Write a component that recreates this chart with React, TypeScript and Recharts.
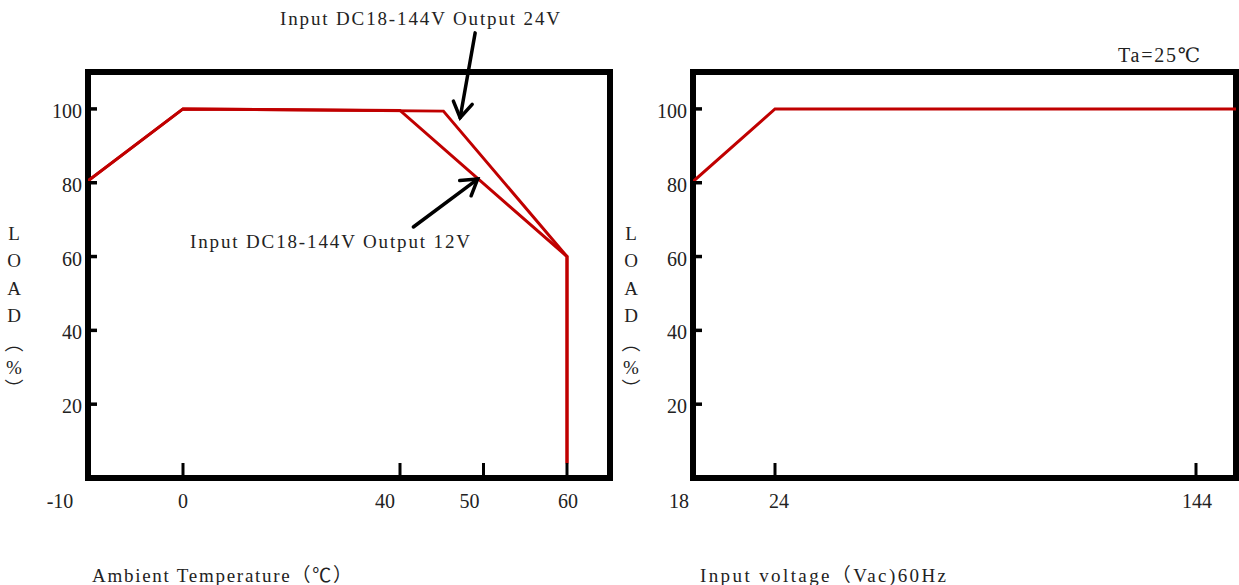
import React from 'react';
import { LineChart, Line, XAxis, YAxis, ReferenceArea, ReferenceLine } from 'recharts';

// ---------- data ----------
const tempTicks = [-10, 0, 40, 50, 60];
const loadTicks = [20, 40, 60, 80, 100];
const temp12V = [-10, 0, 40, 60, 60];
const load12V = [80.5, 100, 99.6, 60, 4];
const temp24V = [-10, 0, 45.2, 60, 60];
const load24V = [80.5, 100, 99.4, 60, 4];
const voltTicks = [18, 24, 144];
const voltX = [18, 24, 155];
const voltLoad = [80.3, 100, 100];

// annotation arrows in data space (from tail to tip)
const arrow24From = { x: 49.0, y: 120.6 };
const arrow24To = { x: 47.2, y: 97.6 };
const arrow12From = { x: 41.6, y: 68.0 };
const arrow12To = { x: 49.3, y: 81.0 };

const series12V = temp12V.map((t, i) => ({ x: t, y: load12V[i] }));
const series24V = temp24V.map((t, i) => ({ x: t, y: load24V[i] }));
const seriesVolt = voltX.map((v, i) => ({ x: v, y: voltLoad[i] }));

// ---------- piecewise-linear axis scale (the original axis is not uniform) ----------
function makePiecewiseScale(knots: number[], stops: number[]): any {
  let domain = [knots[0], knots[knots.length - 1]];
  let range = [0, 1];
  const scale: any = (v: number) => {
    if (v == null || Number.isNaN(v)) return undefined;
    let i = 0;
    while (i < knots.length - 2 && v > knots[i + 1]) i++;
    const t = (v - knots[i]) / (knots[i + 1] - knots[i]);
    const f = stops[i] + t * (stops[i + 1] - stops[i]);
    return range[0] + f * (range[1] - range[0]);
  };
  scale.domain = (d?: number[]) => {
    if (!d) return domain.slice();
    domain = [d[0], d[d.length - 1]];
    return scale;
  };
  scale.range = (r?: number[]) => {
    if (!r) return range.slice();
    range = r.slice();
    return scale;
  };
  scale.copy = () => makePiecewiseScale(knots, stops).domain(domain).range(range);
  scale.ticks = () => knots.slice();
  scale.tickFormat = () => (v: number) => String(v);
  scale.nice = () => scale;
  scale.clamp = () => scale;
  scale.invert = (px: number) => {
    const f = (px - range[0]) / (range[1] - range[0]);
    let i = 0;
    while (i < stops.length - 2 && f > stops[i + 1]) i++;
    const t = (f - stops[i]) / (stops[i + 1] - stops[i]);
    return knots[i] + t * (knots[i + 1] - knots[i]);
  };
  return scale;
}

const tempScale = makePiecewiseScale([-10, 0, 40, 60, 65], [0, 95 / 522, 312 / 522, 479 / 522, 1]);
const voltScale = makePiecewiseScale([18, 24, 144, 155], [0, 82 / 543, 503 / 543, 1]);

// ---------- styling ----------
const RED = '#C00000';
const NUM_FONT = "'Liberation Serif', 'DejaVu Serif', serif";
const ANN_FONT = "'Liberation Serif', 'Noto Sans CJK SC', serif";
const TICK_MARGIN = 10;

const makeXTick = (nudge: Record<number, number>, skip: number) => (p: any) => {
  const { x, y, payload } = p;
  const axisY = y - TICK_MARGIN;
  const v = payload.value;
  return (
    <g>
      {v !== skip && (
        <line x1={x} x2={x} y1={axisY} y2={axisY - 15} stroke="#000" strokeWidth={3} />
      )}
      <text
        x={x + (nudge[v] || 0)}
        y={axisY + 23}
        textAnchor="middle"
        dominantBaseline="central"
        fontFamily={NUM_FONT}
        fontSize={20}
        fill="#222"
      >
        {v}
      </text>
    </g>
  );
};

const YTick = (p: any) => {
  const { x, y, payload } = p;
  const axisX = x + TICK_MARGIN;
  return (
    <g>
      <line x1={axisX} x2={axisX + 9} y1={y} y2={y} stroke="#000" strokeWidth={3.5} />
      <text
        x={axisX - 6}
        y={y + 2}
        textAnchor="end"
        dominantBaseline="central"
        fontFamily={NUM_FONT}
        fontSize={20}
        fill="#222"
      >
        {payload.value}
      </text>
    </g>
  );
};

const ArrowShape = (p: any) => {
  const { x1, y1, x2, y2 } = p;
  if ([x1, y1, x2, y2].some((v) => v == null || Number.isNaN(v))) return null;
  const ang = Math.atan2(y1 - y2, x1 - x2);
  const len = 18;
  const spread = (32 * Math.PI) / 180;
  const w1x = x2 + len * Math.cos(ang - spread);
  const w1y = y2 + len * Math.sin(ang - spread);
  const w2x = x2 + len * Math.cos(ang + spread);
  const w2y = y2 + len * Math.sin(ang + spread);
  return (
    <g stroke="#000" strokeWidth={3.5} strokeLinecap="round" fill="none">
      <line x1={x1} y1={y1} x2={x2} y2={y2} />
      <polyline points={`${w1x},${w1y} ${x2},${y2} ${w2x},${w2y}`} strokeLinejoin="miter" />
    </g>
  );
};

const tempTick = makeXTick({ [-10]: -28, 40: -15, 50: -14, 60: 1 }, -10);
const voltTick = makeXTick({ 18: -14, 24: 4, 144: 1 }, 18);

const VerticalLabel = ({ x }: { x: number }) => {
  const chars = ['L', 'O', 'A', 'D', '︵', '%', '︶'];
  const ys = [233, 260, 288, 315, 343, 367, 389];
  return (
    <text fontFamily={ANN_FONT} fontSize={19} fill="#222" textAnchor="middle" dominantBaseline="central">
      {chars.map((c, i) => (
        <tspan key={i} x={x} y={ys[i]}>
          {c}
        </tspan>
      ))}
    </text>
  );
};

const Ann = ({ x, y, w, children }: { x: number; y: number; w: number; children: string }) => (
  <text
    x={x}
    y={y}
    fontFamily={ANN_FONT}
    fontSize={19}
    fill="#222"
    dominantBaseline="central"
    textLength={w}
    lengthAdjust="spacing"
  >
    {children}
  </text>
);

export default function App() {
  return (
    <div style={{ position: 'absolute', left: 0, top: 0, width: 1239, height: 585, background: '#fff' }}>
      <div style={{ position: 'absolute', left: 0, top: 0 }}>
        <LineChart width={625} height={585} margin={{ top: 72, right: 15, bottom: 77, left: 48 }}>
          <XAxis
            dataKey="x"
            type="number"
            scale={tempScale}
            domain={[-10, 65]}
            allowDataOverflow
            ticks={tempTicks}
            interval={0}
            tick={tempTick}
            tickLine={false}
            tickSize={0}
            tickMargin={TICK_MARGIN}
            axisLine={false}
            height={30}
          />
          <YAxis
            dataKey="y"
            type="number"
            domain={[0, 110]}
            allowDataOverflow
            ticks={loadTicks}
            interval={0}
            tick={YTick}
            tickLine={false}
            tickSize={0}
            tickMargin={TICK_MARGIN}
            axisLine={false}
            width={40}
          />
          <Line data={series12V} dataKey="y" stroke={RED} strokeWidth={3} dot={false} isAnimationActive={false} type="linear" />
          <Line data={series24V} dataKey="y" stroke={RED} strokeWidth={3} dot={false} isAnimationActive={false} type="linear" />
          <ReferenceArea x1={-10} x2={65} y1={0} y2={110} fill="none" stroke="#000" strokeWidth={6} ifOverflow="visible" />
          <ReferenceLine segment={[arrow24From, arrow24To]} ifOverflow="visible" shape={ArrowShape} />
          <ReferenceLine segment={[arrow12From, arrow12To]} ifOverflow="visible" shape={ArrowShape} />
        </LineChart>
      </div>
      <div style={{ position: 'absolute', left: 630, top: 0 }}>
        <LineChart width={609} height={585} margin={{ top: 72, right: 3, bottom: 77, left: 23 }}>
          <XAxis
            dataKey="x"
            type="number"
            scale={voltScale}
            domain={[18, 155]}
            allowDataOverflow
            ticks={voltTicks}
            interval={0}
            tick={voltTick}
            tickLine={false}
            tickSize={0}
            tickMargin={TICK_MARGIN}
            axisLine={false}
            height={30}
          />
          <YAxis
            dataKey="y"
            type="number"
            domain={[0, 110]}
            allowDataOverflow
            ticks={loadTicks}
            interval={0}
            tick={YTick}
            tickLine={false}
            tickSize={0}
            tickMargin={TICK_MARGIN}
            axisLine={false}
            width={40}
          />
          <Line data={seriesVolt} dataKey="y" stroke={RED} strokeWidth={3} dot={false} isAnimationActive={false} type="linear" />
          <ReferenceArea x1={18} x2={155} y1={0} y2={110} fill="none" stroke="#000" strokeWidth={6} ifOverflow="visible" />
        </LineChart>
      </div>
      <svg
        width={1239}
        height={585}
        style={{ position: 'absolute', left: 0, top: 0, pointerEvents: 'none', overflow: 'visible' }}
      >
        <Ann x={280} y={18} w={280}>Input DC18-144V Output 24V</Ann>
        <Ann x={190} y={241} w={280}>Input DC18-144V Output 12V</Ann>
        <Ann x={92} y={575} w={260}>Ambient Temperature（℃）</Ann>
        <Ann x={700} y={575} w={246}>Input voltage（Vac)60Hz</Ann>
        <text
          x={1118}
          y={55}
          fontFamily={NUM_FONT}
          fontSize={20}
          fill="#222"
          dominantBaseline="central"
          textLength={82}
          lengthAdjust="spacing"
        >
          Ta=25℃
        </text>
        <VerticalLabel x={14} />
        <VerticalLabel x={631} />
      </svg>
    </div>
  );
}
